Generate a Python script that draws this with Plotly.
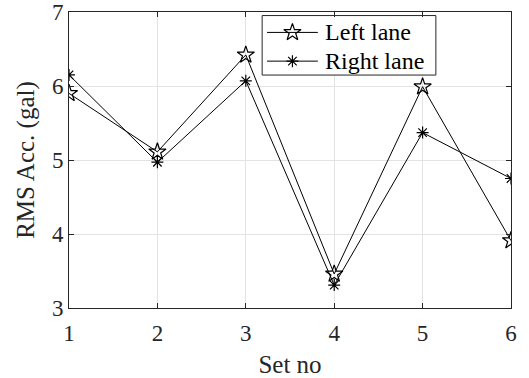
import plotly.graph_objects as go

set_no = [1, 2, 3, 4, 5, 6]
left_lane = [5.90, 5.11, 6.42, 3.46, 5.99, 3.91]
right_lane = [6.15, 4.97, 6.07, 3.31, 5.37, 4.75]
series_names = ["Left lane", "Right lane"]

font_family = "Liberation Serif, Times New Roman, serif"
ink = "#262626"

markers = [
    dict(symbol="star-open", size=13, color="black", line=dict(width=1.2)),
    dict(symbol="asterisk-open", size=10, color="black", line=dict(width=1.2)),
]

fig = go.Figure()
for name, values, marker in zip(series_names, [left_lane, right_lane], markers):
    fig.add_trace(go.Scatter(
        x=set_no, y=values, name=name, mode="lines+markers",
        line=dict(color="black", width=1), marker=marker, showlegend=False,
    ))

# Legend placed in axis-domain fractions (upper right inside the axes),
# drawn on an overlay axis pair spanning [0, 1] so it sits above the grid.
box_x = [0.437, 0.830]
box_y = [0.787, 0.988]
row_y = [0.931, 0.834]
sample_x = [0.448, 0.563]
text_x = 0.575

fig.add_trace(go.Scatter(
    x=[box_x[0], box_x[1], box_x[1], box_x[0], box_x[0]],
    y=[box_y[0], box_y[0], box_y[1], box_y[1], box_y[0]],
    xaxis="x2", yaxis="y2", mode="lines", fill="toself", fillcolor="white",
    line=dict(color=ink, width=1), showlegend=False, hoverinfo="skip",
))

for name, marker, ry in zip(series_names, markers, row_y):
    fig.add_trace(go.Scatter(
        x=sample_x, y=[ry, ry], xaxis="x2", yaxis="y2", mode="lines",
        line=dict(color="black", width=1), showlegend=False, hoverinfo="skip",
    ))
    fig.add_trace(go.Scatter(
        x=[sum(sample_x) / 2], y=[ry], xaxis="x2", yaxis="y2", mode="markers",
        marker=marker, showlegend=False, hoverinfo="skip",
    ))
    fig.add_annotation(
        x=text_x, y=ry, xref="x2", yref="y2", text=name,
        showarrow=False, xanchor="left", yanchor="middle",
        font=dict(family=font_family, size=24, color="black"),
    )

axis_common = dict(
    showgrid=True, gridcolor="#e3e3e3", gridwidth=1,
    showline=True, linecolor=ink, linewidth=1, mirror="ticks",
    ticks="inside", ticklen=5, tickcolor=ink,
    zeroline=False, automargin=False,
    tickfont=dict(family=font_family, size=23, color=ink),
)

fig.update_layout(
    xaxis=dict(
        range=[1, 6], tickvals=set_no, ticklabelstandoff=4,
        title=dict(text="Set no", font=dict(family=font_family, size=25, color=ink), standoff=10),
        **axis_common,
    ),
    yaxis=dict(
        range=[3, 7], tickvals=[3, 4, 5, 6, 7],
        title=dict(text="RMS Acc. (gal)", font=dict(family=font_family, size=25, color=ink), standoff=10),
        **axis_common,
    ),
    xaxis2=dict(range=[0, 1], overlaying="x", anchor="y2", visible=False, fixedrange=True,
                automargin=False),
    yaxis2=dict(range=[0, 1], overlaying="y", anchor="x2", visible=False, fixedrange=True,
                automargin=False),
    width=529, height=378,
    margin=dict(l=69, r=18, t=12, b=70),
    paper_bgcolor="white", plot_bgcolor="white",
    showlegend=False,
)

fig.write_html("out.html")
